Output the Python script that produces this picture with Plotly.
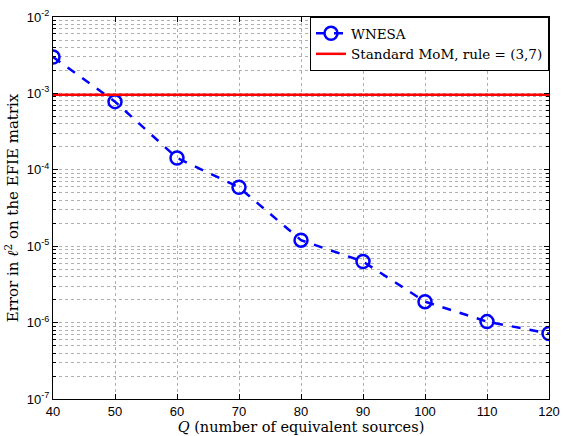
import plotly.graph_objects as go

Q = [40, 50, 60, 70, 80, 90, 100, 110, 120]
wnesa_err = [3.0e-3, 7.8e-4, 1.43e-4, 5.9e-5, 1.2e-5, 6.3e-6, 1.88e-6, 1.03e-6, 7.2e-7]
mom_Q = [40, 120]
mom_err = [9.6e-4, 9.6e-4]
x_ticks = [40, 50, 60, 70, 80, 90, 100, 110, 120]
y_exps = [-7, -6, -5, -4, -3, -2]
minor_mult = [2, 3, 4, 5, 6, 7, 8, 9]

y_minor = [m * 10.0 ** e for e in y_exps[:-1] for m in minor_mult]

fig = go.Figure()
fig.add_trace(go.Scatter(
    x=Q, y=wnesa_err, mode="lines+markers", name="WNESA",
    line=dict(color="#0000ff", width=2.5, dash="dash"),
    marker=dict(symbol="circle-open", size=13, color="#0000ff", line=dict(width=2.5, color="#0000ff")),
))
fig.add_trace(go.Scatter(
    x=mom_Q, y=mom_err, mode="lines", name="Standard MoM, rule = (3,7)",
    line=dict(color="#ff0000", width=2.5),
))

axis_common = dict(
    showline=True, linecolor="black", linewidth=1, mirror="ticks",
    ticks="inside", ticklen=5, tickcolor="black",
    showgrid=True, gridcolor="#b0b0b0", griddash="dot", gridwidth=1,
    zeroline=False, automargin=False,
    tickfont=dict(family="Liberation Sans, Arial", size=13, color="black"),
)

fig.update_xaxes(
    range=[40, 120], tickvals=x_ticks, ticktext=[str(v) for v in x_ticks],
    title=dict(text="<i>Q</i> (number of equivalent sources)",
               font=dict(family="DejaVu Serif", size=14.5, color="black"), standoff=0),
    **axis_common,
)
fig.update_yaxes(
    type="log", range=[-7, -2],
    tickvals=[10.0 ** e for e in y_exps],
    ticktext=["10<sup>%d</sup>" % e for e in y_exps],
    minor=dict(tickvals=y_minor, ticks="inside", ticklen=3, tickcolor="black", showgrid=True,
               gridcolor="#b0b0b0", griddash="dot", gridwidth=1),
    title=dict(text="Error in <i>ℓ</i><sup>2</sup> on the EFIE matrix",
               font=dict(family="DejaVu Serif", size=15, color="black"), standoff=4),
    **axis_common,
)

fig.update_layout(
    width=563, height=436,
    margin=dict(l=53, r=14, t=17, b=37),
    paper_bgcolor="white", plot_bgcolor="white",
    legend=dict(x=1, y=1, xanchor="right", yanchor="top",
                bgcolor="white", bordercolor="black", borderwidth=1,
                font=dict(family="DejaVu Serif", size=13.5, color="black"),
                tracegroupgap=0, itemwidth=30),
    showlegend=True,
)

fig.write_html("out.html", config={"displayModeBar": False},
               post_script="document.body.style.margin='0';document.body.style.overflow='hidden';")
